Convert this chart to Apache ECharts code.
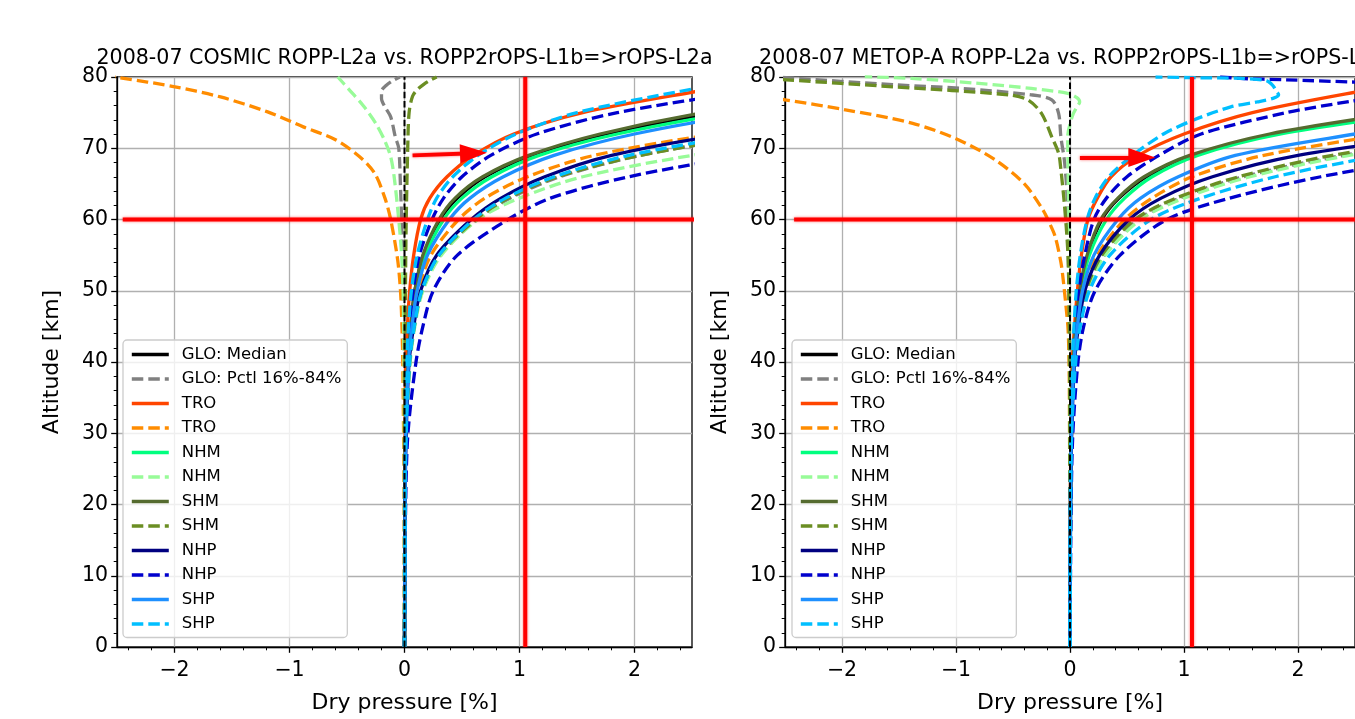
<!DOCTYPE html>
<html>
<head>
<meta charset="utf-8">
<script src="https://cdn.jsdelivr.net/npm/echarts@6/dist/echarts.min.js"></script>
<style>
  html, body { margin: 0; padding: 0; background: #ffffff; }
  #chart { width: 1355px; height: 719px; }
</style>
</head>
<body>
<div id="chart"></div>
<script>
// ---------------------------------------------------------------------------
// Dry-pressure deviation profiles (percent) versus altitude (km), July 2008.
// Median and 16%/84% percentile profiles per latitude band.
// ---------------------------------------------------------------------------

const TITLES = [
  '2008-07 COSMIC ROPP-L2a vs. ROPP2rOPS-L1b=>rOPS-L2a',
  '2008-07 METOP-A ROPP-L2a vs. ROPP2rOPS-L1b=>rOPS-L2a'
];
const X_TICKS = [-2, -1, 0, 1, 2];
const X_MINOR_TICKS = [-2.4, -2.2, -1.8, -1.6, -1.4, -1.2, -0.8, -0.6, -0.4, -0.2,
                       0.2, 0.4, 0.6, 0.8, 1.2, 1.4, 1.6, 1.8, 2.2, 2.4];
const Y_TICKS = [0, 10, 20, 30, 40, 50, 60, 70, 80];

// Legend entries (the "|pctl" suffix marks the percentile pair of a band)
const LEGEND_NAMES = ['GLO: Median', 'GLO: Pctl 16%-84%', 'TRO', 'TRO|pctl', 'NHM', 'NHM|pctl',
                      'SHM', 'SHM|pctl', 'NHP', 'NHP|pctl', 'SHP', 'SHP|pctl'];

// Common altitude levels (km) for the profiles that rise monotonically
const ALT_GRID = [0, 20, 30, 40, 45, 50, 55, 60, 63, 66, 69, 72, 75, 78, 80];

// ----- COSMIC -----
const GLO_MED_L = [0, 0.005, 0.01, 0.03, 0.055, 0.09, 0.165, 0.31, 0.46, 0.70, 1.11, 1.75, 2.70, 4.0, 5.0];
const GLO_P84_L = [0, 0.005, 0.015, 0.045, 0.085, 0.15, 0.31, 0.63, 0.92, 1.35, 2.05, 3.15, 4.6, 6.5, 8.0];
const TRO_MED_L = [0, 0.002, 0.005, 0.01, 0.025, 0.045, 0.08, 0.14, 0.22, 0.37, 0.60, 0.95, 1.55, 2.55, 3.3];
const TRO_P84_L = [0, 0.005, 0.012, 0.035, 0.07, 0.12, 0.23, 0.47, 0.70, 1.07, 1.65, 2.7, 4.0, 5.8, 7.0];
const NHM_MED_L = [0, 0.005, 0.01, 0.03, 0.06, 0.10, 0.18, 0.34, 0.50, 0.76, 1.17, 1.85, 2.85, 4.2, 5.2];
const NHM_P84_L = [0, 0.005, 0.015, 0.05, 0.09, 0.16, 0.32, 0.64, 1.0, 1.55, 2.5, 3.8, 5.6, 8.0, 9.5];
const SHM_MED_L = [0, 0.005, 0.01, 0.03, 0.055, 0.09, 0.16, 0.30, 0.44, 0.68, 1.08, 1.70, 2.60, 3.9, 4.9];
const SHM_P84_L = [0, 0.005, 0.015, 0.045, 0.085, 0.15, 0.30, 0.62, 0.90, 1.33, 2.05, 3.15, 4.6, 6.5, 8.0];
const NHP_MED_L = [0, 0.005, 0.015, 0.04, 0.08, 0.14, 0.28, 0.58, 0.84, 1.22, 1.8, 2.8, 4.2, 6.0, 7.5];
const NHP_P16_L = [0, 0.005, 0.01, 0.025, 0.045, 0.075, 0.13, 0.24, 0.34, 0.50, 0.75, 1.15, 1.85, 3.0, 3.9];
const NHP_P84_L = [0, 0.01, 0.03, 0.1, 0.16, 0.25, 0.46, 0.9, 1.27, 1.95, 3.0, 4.5, 6.5, 9.0, 11.0];
const SHP_MED_L = [0, 0.005, 0.012, 0.035, 0.065, 0.11, 0.2, 0.39, 0.57, 0.86, 1.3, 2.0, 3.05, 4.5, 5.6];
const SHP_P16_L = [0, 0.005, 0.01, 0.02, 0.035, 0.06, 0.11, 0.2, 0.28, 0.42, 0.64, 0.97, 1.5, 2.4, 3.1];
const SHP_P84_L = [0, 0.005, 0.015, 0.045, 0.085, 0.15, 0.3, 0.6, 0.88, 1.3, 1.95, 3.0, 4.4, 6.3, 7.7];

const GLO_P16_L_ALT = [0, 30, 40, 50, 60, 64.6, 70, 71.6, 74.4, 75.8, 77, 78, 78.8, 79.5, 80];
const GLO_P16_L     = [0, -0.002, -0.004, -0.01, -0.025, -0.035, -0.05, -0.08, -0.12, -0.17, -0.2, -0.2, -0.16, -0.1, -0.04];
const TRO_P16_L_ALT = [0, 20, 30, 40, 45, 50, 54.4, 60, 63, 66.5, 68.8, 71.2, 73, 75.1, 77.2, 78.7, 80];
const TRO_P16_L     = [0, -0.003, -0.008, -0.015, -0.022, -0.035, -0.06, -0.12, -0.17, -0.26, -0.39, -0.6, -0.88, -1.19, -1.6, -2.02, -2.52];
const NHM_P16_L_ALT = [0, 30, 40, 50, 55, 60, 66, 68.8, 71, 73.5, 76, 78.2, 80];
const NHM_P16_L     = [0, -0.002, -0.004, -0.012, -0.025, -0.05, -0.09, -0.12, -0.17, -0.25, -0.36, -0.48, -0.58];
const SHM_P16_L_ALT = [0, 30, 40, 50, 60, 70, 75, 77.3, 78.2, 79, 79.6, 80];
const SHM_P16_L     = [0, 0.002, 0.004, 0.008, 0.015, 0.028, 0.04, 0.07, 0.11, 0.17, 0.23, 0.28];

// ----- METOP-A -----
const GLO_MED_R = [0, 0.004, 0.01, 0.03, 0.05, 0.088, 0.155, 0.28, 0.43, 0.67, 1.08, 1.8, 2.95, 4.3, 5.3];
const GLO_P84_R = [0, 0.005, 0.015, 0.045, 0.085, 0.15, 0.3, 0.6, 0.96, 1.52, 2.4, 3.7, 5.4, 7.5, 9.0];
const TRO_MED_R = [0, 0.003, 0.008, 0.02, 0.04, 0.065, 0.1, 0.157, 0.24, 0.36, 0.6, 1.0, 1.6, 2.55, 3.3];
const TRO_P84_R = [0, 0.005, 0.012, 0.035, 0.07, 0.12, 0.24, 0.48, 0.72, 1.07, 1.7, 2.8, 4.0, 5.8, 7.0];
const NHM_MED_R = [0, 0.005, 0.01, 0.03, 0.055, 0.095, 0.17, 0.32, 0.48, 0.72, 1.12, 1.85, 3.1, 4.5, 5.5];
const NHM_P84_R = [0, 0.005, 0.015, 0.045, 0.085, 0.15, 0.31, 0.62, 1.0, 1.58, 2.45, 3.8, 5.6, 8.0, 9.5];
const SHM_MED_R = [0, 0.004, 0.01, 0.03, 0.05, 0.085, 0.15, 0.27, 0.42, 0.65, 1.05, 1.75, 2.9, 4.2, 5.2];
const SHM_P84_R = [0, 0.005, 0.015, 0.04, 0.08, 0.14, 0.28, 0.57, 0.93, 1.48, 2.3, 3.6, 5.3, 7.5, 9.0];
const NHP_MED_R = [0, 0.005, 0.015, 0.04, 0.075, 0.13, 0.26, 0.52, 0.8, 1.25, 2.0, 3.3, 4.8, 6.8, 8.0];
const NHP_P84_R = [0, 0.01, 0.025, 0.07, 0.12, 0.22, 0.44, 0.85, 1.4, 2.2, 3.3, 4.9, 7.0, 9.5, 11.0];
const SHP_MED_R = [0, 0.005, 0.012, 0.035, 0.065, 0.11, 0.21, 0.42, 0.62, 0.95, 1.45, 2.5, 3.7, 5.3, 6.5];
const SHP_P84_R = [0, 0.005, 0.015, 0.05, 0.09, 0.17, 0.35, 0.71, 1.15, 1.8, 2.75, 4.0, 5.8, 8.0, 9.5];

const NHP_P16_R_ALT = [0, 20, 30, 40, 45, 50, 55, 60, 63, 66, 69, 72, 75, 76.6, 77.5, 78.5, 79.1, 79.3, 79.6, 79.8, 80.05];
const NHP_P16_R     = [0, 0.003, 0.01, 0.025, 0.045, 0.075, 0.13, 0.21, 0.32, 0.5, 0.78, 1.15, 1.9, 2.47, 2.9, 3.1, 2.9, 2.47, 1.9, 1.49, 1.3];
const SHP_P16_R_ALT = [0, 20, 30, 40, 45, 50, 55, 60, 63, 66, 69, 72, 74, 75.8, 76.5, 77.0, 77.5, 78.0, 78.8, 79.5, 79.8, 79.9, 80];
const SHP_P16_R     = [0, 0.003, 0.008, 0.02, 0.035, 0.055, 0.09, 0.15, 0.22, 0.34, 0.55, 0.82, 1.09, 1.41, 1.64, 1.78, 1.83, 1.81, 1.78, 1.72, 1.5, 1.1, 0.75];
const GLO_P16_R_ALT = [0, 30, 40, 50, 60, 64.6, 68.4, 71.6, 74.9, 76.8, 77.5, 78.4, 78.9, 79.9, 80.1];
const GLO_P16_R     = [0, -0.002, -0.004, -0.01, -0.02, -0.03, -0.05, -0.08, -0.1, -0.16, -0.34, -0.95, -1.53, -2.49, -2.7];
const SHM_P16_R_ALT = [0, 30, 40, 50, 55.8, 62.3, 67, 69.3, 71.6, 74.9, 76.8, 77.5, 78.6, 79.6, 79.8];
const SHM_P16_R     = [0, -0.002, -0.004, -0.01, -0.02, -0.05, -0.08, -0.1, -0.16, -0.25, -0.37, -0.54, -1.53, -2.49, -2.7];
const NHM_P16_R_ALT = [0, 40, 50, 60, 65, 71.6, 74.5, 75.8, 76.5, 77.1, 77.7, 78.4, 79.1, 79.8, 80.05];
const NHM_P16_R     = [0, -0.002, -0.005, -0.01, -0.015, -0.02, 0.02, 0.06, 0.085, 0.06, -0.02, -0.34, -0.8, -1.39, -1.8];
const TRO_P16_R_ALT = [0, 20, 30, 40, 44.6, 47, 51.6, 54, 57.6, 59.5, 61.4, 65, 68.4, 71.2, 73.5, 75.4, 76.8, 77.5];
const TRO_P16_R     = [0, -0.002, -0.004, -0.008, -0.017, -0.03, -0.06, -0.08, -0.13, -0.18, -0.24, -0.4, -0.66, -0.98, -1.38, -1.97, -2.5, -2.8];

// Zero reference line
const ZERO_ALT = [0, 80];
const ZERO_X = [0, 0];

// Red markers per panel: vertical line, 60 km line, arrow
const VLINE_X = [1.05, 1.07];
const HLINE_ALT = 60;
const HLINE_SPAN = [[-2.45, 2.56], [-2.42, 2.62]];
const ARROW_FROM = [[0.07, 69.0], [0.087, 68.7]];
const ARROW_TO = [[0.60, 69.3], [0.63, 68.7]];

// ---------------------------------------------------------------------------
const pts = (alts, xs) => alts.map((a, i) => [xs[i], a]);

const PANELS = [
  {
    'GLO: Median': [pts(ALT_GRID, GLO_MED_L)],
    'GLO: Pctl 16%-84%': [pts(GLO_P16_L_ALT, GLO_P16_L), pts(ALT_GRID, GLO_P84_L)],
    'TRO': [pts(ALT_GRID, TRO_MED_L)],
    'TRO|pctl': [pts(TRO_P16_L_ALT, TRO_P16_L), pts(ALT_GRID, TRO_P84_L)],
    'NHM': [pts(ALT_GRID, NHM_MED_L)],
    'NHM|pctl': [pts(NHM_P16_L_ALT, NHM_P16_L), pts(ALT_GRID, NHM_P84_L)],
    'SHM': [pts(ALT_GRID, SHM_MED_L)],
    'SHM|pctl': [pts(SHM_P16_L_ALT, SHM_P16_L), pts(ALT_GRID, SHM_P84_L)],
    'NHP': [pts(ALT_GRID, NHP_MED_L)],
    'NHP|pctl': [pts(ALT_GRID, NHP_P16_L), pts(ALT_GRID, NHP_P84_L)],
    'SHP': [pts(ALT_GRID, SHP_MED_L)],
    'SHP|pctl': [pts(ALT_GRID, SHP_P16_L), pts(ALT_GRID, SHP_P84_L)]
  },
  {
    'GLO: Median': [pts(ALT_GRID, GLO_MED_R)],
    'GLO: Pctl 16%-84%': [pts(GLO_P16_R_ALT, GLO_P16_R), pts(ALT_GRID, GLO_P84_R)],
    'TRO': [pts(ALT_GRID, TRO_MED_R)],
    'TRO|pctl': [pts(TRO_P16_R_ALT, TRO_P16_R), pts(ALT_GRID, TRO_P84_R)],
    'NHM': [pts(ALT_GRID, NHM_MED_R)],
    'NHM|pctl': [pts(NHM_P16_R_ALT, NHM_P16_R), pts(ALT_GRID, NHM_P84_R)],
    'SHM': [pts(ALT_GRID, SHM_MED_R)],
    'SHM|pctl': [pts(SHM_P16_R_ALT, SHM_P16_R), pts(ALT_GRID, SHM_P84_R)],
    'NHP': [pts(ALT_GRID, NHP_MED_R)],
    'NHP|pctl': [pts(NHP_P16_R_ALT, NHP_P16_R), pts(ALT_GRID, NHP_P84_R)],
    'SHP': [pts(ALT_GRID, SHP_MED_R)],
    'SHP|pctl': [pts(SHP_P16_R_ALT, SHP_P16_R), pts(ALT_GRID, SHP_P84_R)]
  }
];

const SERIES_STYLE = {
  'GLO: Median': ['#000000', false],
  'GLO: Pctl 16%-84%': ['#808080', true],
  'TRO': ['#ff4500', false], 'TRO|pctl': ['#ff8c00', true],
  'NHM': ['#00ff7f', false], 'NHM|pctl': ['#98fb98', true],
  'SHM': ['#556b2f', false], 'SHM|pctl': ['#6b8e23', true],
  'NHP': ['#000080', false], 'NHP|pctl': ['#0000cd', true],
  'SHP': ['#1e90ff', false], 'SHP|pctl': ['#00bfff', true]
};

const FONT = 'DejaVu Sans';
const GRID_LEFT = [117, 785];
const GRID_TOP = 77, GRID_W = 575, GRID_H = 571;
const LEGEND_LEFT = [123, 792];

const fmtX = v => (v < 0 ? '\u2212' + Math.abs(v) : String(v));

const grids = [], xAxes = [], yAxes = [], titles = [], legends = [], series = [];

const RED = '#ff0000';
const redLine = {
  color: RED, width: 4, type: 'solid', cap: 'butt',
  shadowBlur: 3, shadowColor: 'rgba(255,0,0,0.55)'
};

PANELS.forEach((panel, p) => {
  grids.push({
    left: GRID_LEFT[p], top: GRID_TOP, width: GRID_W, height: GRID_H,
    show: true, borderColor: '#000', borderWidth: 1.3, containLabel: false
  });

  // main x axis
  xAxes.push({
    gridIndex: p, type: 'value', min: -2.5, max: 2.5, position: 'bottom',
    name: 'Dry pressure [%]', nameLocation: 'middle', nameGap: 45,
    nameTextStyle: { fontSize: 22, color: '#000', fontFamily: FONT },
    axisLine: { show: true, onZero: false, lineStyle: { color: '#000', width: 1.3 } },
    axisTick: { show: true, customValues: X_TICKS, length: 5.8, lineStyle: { color: '#000', width: 1.3 } },
    axisLabel: { customValues: X_TICKS, formatter: fmtX, fontSize: 20.5, color: '#000', margin: 13, fontFamily: FONT },
    splitLine: { show: true, lineStyle: { color: '#b0b0b0', width: 1.3 } }
  });
  // minor ticks on x
  xAxes.push({
    gridIndex: p, type: 'value', min: -2.5, max: 2.5, position: 'bottom',
    axisLine: { show: false, onZero: false },
    axisLabel: { show: false },
    splitLine: { show: false },
    axisTick: { show: true, customValues: X_MINOR_TICKS, length: 3.3, lineStyle: { color: '#000', width: 1 } }
  });

  yAxes.push({
    gridIndex: p, type: 'value', min: 0, max: 80, interval: 10,
    name: 'Altitude [km]', nameLocation: 'middle', nameGap: 54,
    nameTextStyle: { fontSize: 22, color: '#000', fontFamily: FONT },
    axisLine: { show: true, onZero: false, lineStyle: { color: '#000', width: 1.3 } },
    axisTick: { show: true, customValues: Y_TICKS, length: 5.8, lineStyle: { color: '#000', width: 1.3 } },
    minorTick: { show: true, splitNumber: 5, length: 3.3, lineStyle: { color: '#000', width: 1 } },
    axisLabel: { customValues: Y_TICKS, fontSize: 20.5, color: '#000', margin: 9, fontFamily: FONT },
    splitLine: { show: true, lineStyle: { color: '#b0b0b0', width: 1.3 } }
  });

  titles.push({
    text: TITLES[p], left: GRID_LEFT[p] + GRID_W / 2, top: 48, textAlign: 'center', padding: 0,
    textStyle: { fontSize: 20.6, fontWeight: 'normal', color: '#000', fontFamily: FONT }
  });

  legends.push({
    orient: 'vertical', left: LEGEND_LEFT[p], top: 340,
    padding: [6, 6, 5, 7], itemWidth: 37, itemHeight: 20, itemGap: 7.5,
    data: LEGEND_NAMES, formatter: n => n.split('|')[0],
    selectedMode: false,
    itemStyle: { color: 'rgba(0,0,0,0)', borderWidth: 0, opacity: 0 },
    lineStyle: { width: 3.6 },
    textStyle: { fontSize: 16.5, color: '#000', fontFamily: FONT, padding: [0, 0, 0, 8] },
    backgroundColor: 'rgba(255,255,255,0.8)', borderColor: '#cccccc', borderWidth: 1.3, borderRadius: 4
  });

  const xi = p * 2, yi = p;
  LEGEND_NAMES.forEach(name => {
    const [color, dashed] = SERIES_STYLE[name];
    panel[name].forEach(data => {
      series.push({
        type: 'line', name, xAxisIndex: xi, yAxisIndex: yi, data,
        symbol: 'none', smooth: 0.3, silent: true,
        lineStyle: { color, width: 3.3, type: dashed ? [11.5, 5] : 'solid', cap: 'butt' },
        itemStyle: { color }
      });
    });
  });

  // zero reference
  series.push({
    type: 'line', xAxisIndex: xi, yAxisIndex: yi, data: pts(ZERO_ALT, ZERO_X),
    symbol: 'none', silent: true, z: 3,
    lineStyle: { color: '#000', width: 2, type: [6.5, 2.8] }
  });

  // red markers
  series.push({
    type: 'line', xAxisIndex: xi, yAxisIndex: yi, z: 4, silent: true, symbol: 'none',
    data: [[VLINE_X[p], 0], [VLINE_X[p], 80]], lineStyle: redLine
  });
  series.push({
    type: 'line', xAxisIndex: xi, yAxisIndex: yi, z: 4, silent: true, symbol: 'none', clip: false,
    data: [[HLINE_SPAN[p][0], HLINE_ALT], [HLINE_SPAN[p][1], HLINE_ALT]], lineStyle: redLine
  });
  series.push({
    type: 'line', xAxisIndex: xi, yAxisIndex: yi, z: 4, silent: true, symbol: 'none', data: [],
    markLine: {
      silent: true, animation: false, symbol: ['none', 'triangle'],
      label: { show: false },
      lineStyle: redLine,
      emphasis: { disabled: true },
      data: [[
        { coord: ARROW_FROM[p] },
        { coord: ARROW_TO[p], symbol: 'triangle', symbolSize: [19, 27], itemStyle: { color: RED } }
      ]]
    }
  });
});

const chart = echarts.init(document.getElementById('chart'), null, { renderer: 'canvas' });
chart.setOption({
  animation: false,
  backgroundColor: '#ffffff',
  title: titles,
  legend: legends,
  grid: grids,
  xAxis: xAxes,
  yAxis: yAxes,
  series
});
</script>
</body>
</html>
